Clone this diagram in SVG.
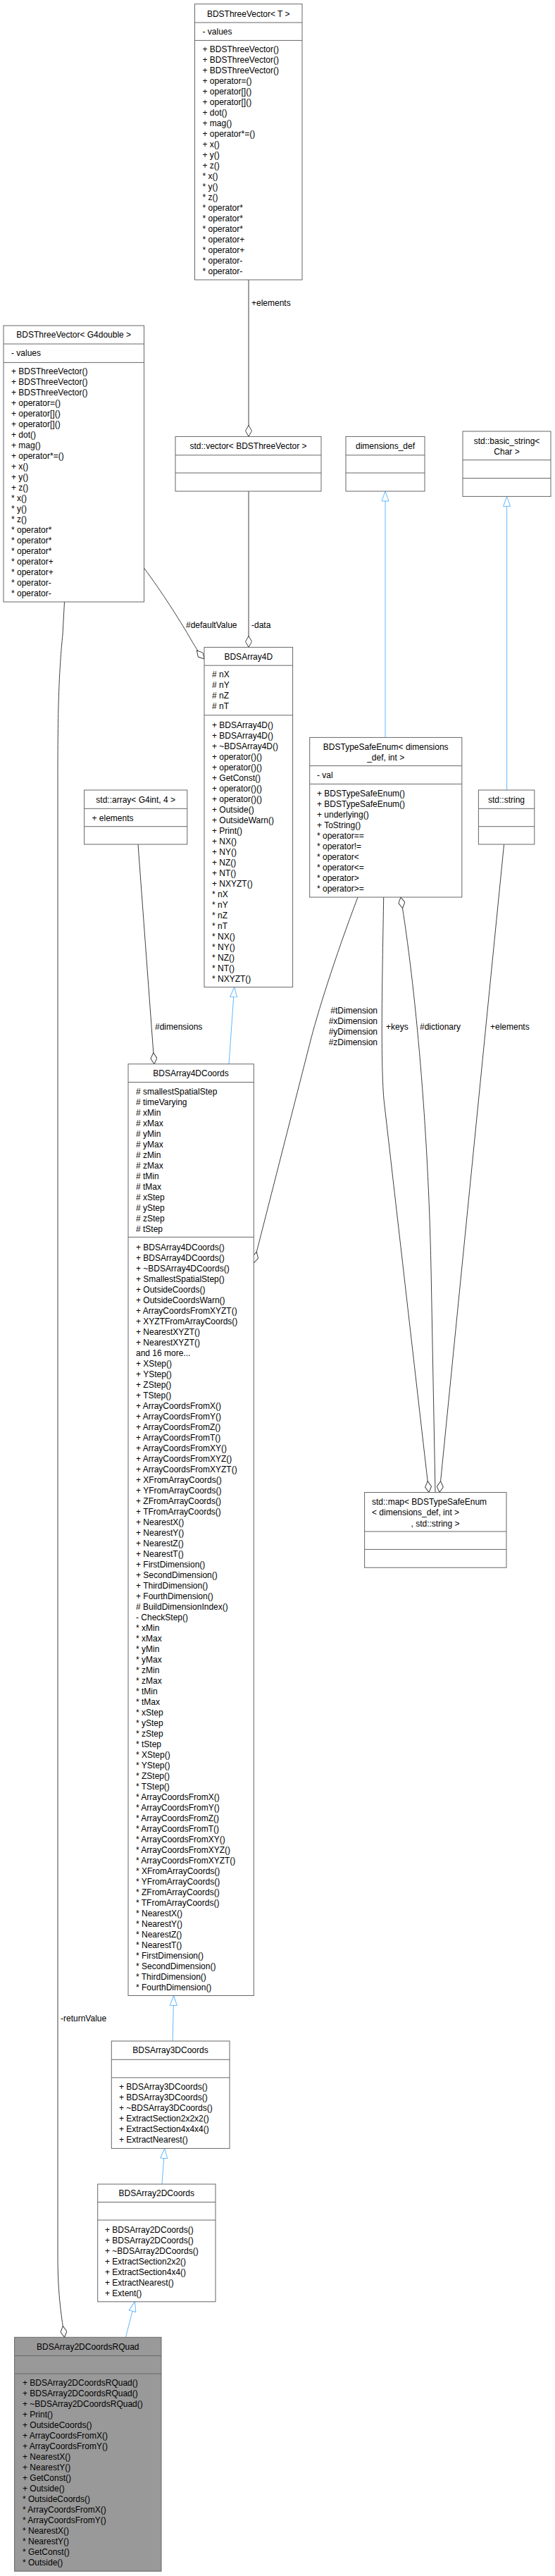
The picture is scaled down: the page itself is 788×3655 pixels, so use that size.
<svg xmlns="http://www.w3.org/2000/svg" width="788" height="3655" viewBox="0 0 788 3655">
<style>
.b{fill:#fff;stroke:#666;stroke-width:1}
.s{stroke:#666;stroke-width:1}
text{font-family:"Liberation Sans",Arial,sans-serif;font-size:12px;fill:#000}
.c{text-anchor:middle}
.e{fill:none;stroke:#404040;stroke-width:1}
.i{fill:none;stroke:#63b8ff;stroke-width:1}
</style>
<defs>
<marker id="dia" viewBox="0 -5 17 10" markerWidth="17" markerHeight="10" refX="16.5" refY="0" orient="auto" markerUnits="userSpaceOnUse"><path d="M0.5,0 L8.5,-4.5 L16.5,0 L8.5,4.5 Z" fill="#fff" stroke="#404040"/></marker>
<marker id="tri" viewBox="0 -6 15 12" markerWidth="15" markerHeight="12" refX="14.5" refY="0" orient="auto" markerUnits="userSpaceOnUse"><path d="M0.5,-5 L14.5,0 L0.5,5 Z" fill="#fff" stroke="#63b8ff"/></marker>
</defs>
<rect width="788" height="3655" fill="#fff"/>
<g id="edges">
<path class="e" d="M353,397 L353,619.4" marker-end="url(#dia)"/>
<text x="357" y="434">+elements</text>
<path class="e" d="M353,697 L353,918.4" marker-end="url(#dia)"/>
<text x="357" y="891">-data</text>
<path class="e" d="M204.5,806 C230,840 255,880 268,902 C276,916 282,926 290,935" marker-end="url(#dia)"/>
<text x="264" y="891">#defaultValue</text>
<path class="e" d="M91.5,854 L89,900 C84,950 82,1000 82,1100 L82,3200 C82,3260 88,3290 91.5,3316.3" marker-end="url(#dia)"/>
<text x="86" y="2868">-returnValue</text>
<path class="e" d="M196,1198 L219,1509.7" marker-end="url(#dia)"/>
<text x="220" y="1461">#dimensions</text>
<path class="e" d="M508,1273 C475,1360 450,1440 440,1480 L360.3,1792" marker-end="url(#dia)"/>
<text x="536" y="1438" text-anchor="end">#tDimension</text>
<text x="536" y="1453" text-anchor="end">#xDimension</text>
<text x="536" y="1468" text-anchor="end">#yDimension</text>
<text x="536" y="1483" text-anchor="end">#zDimension</text>
<path class="e" d="M544.7,1273 C543,1380 540,1500 545,1560 L609,2117.5" marker-end="url(#dia)"/>
<text x="548" y="1461">+keys</text>
<path class="e" d="M618,2117.5 L612,1800 C608,1600 590,1400 569,1273" marker-end="url(#dia)"/>
<text x="596" y="1461">#dictionary</text>
<path class="e" d="M715.6,1198 L624,2117.5" marker-end="url(#dia)"/>
<text x="696" y="1461">+elements</text>
<path class="i" d="M547,1046.4 L547,697" marker-end="url(#tri)"/>
<path class="i" d="M719.6,1121 L719.6,704.4" marker-end="url(#tri)"/>
<path class="i" d="M325,1509.7 L332.7,1400.6" marker-end="url(#tri)"/>
<path class="i" d="M245,2896 L246.7,2831.5" marker-end="url(#tri)"/>
<path class="i" d="M230,3099 L233.7,3048.4" marker-end="url(#tri)"/>
<path class="i" d="M178.4,3316.3 L191.5,3265.8" marker-end="url(#tri)"/>
</g>
<g id="BDSThreeVectorT">
<rect class="b" x="276.5" y="5.7" width="152.5" height="391.3"/>
<path class="s" d="M276.5,32H429M276.5,57.4H429"/>
<text x="352.75" y="23.5" class="c">BDSThreeVector&lt; T &gt;</text>
<text x="287.5" y="49">- values</text>
<text x="287.5" y="74"><tspan x="287.5" dy="0">+ BDSThreeVector()</tspan><tspan x="287.5" dy="15">+ BDSThreeVector()</tspan><tspan x="287.5" dy="15">+ BDSThreeVector()</tspan><tspan x="287.5" dy="15">+ operator=()</tspan><tspan x="287.5" dy="15">+ operator[]()</tspan><tspan x="287.5" dy="15">+ operator[]()</tspan><tspan x="287.5" dy="15">+ dot()</tspan><tspan x="287.5" dy="15">+ mag()</tspan><tspan x="287.5" dy="15">+ operator*=()</tspan><tspan x="287.5" dy="15">+ x()</tspan><tspan x="287.5" dy="15">+ y()</tspan><tspan x="287.5" dy="15">+ z()</tspan><tspan x="287.5" dy="15">* x()</tspan><tspan x="287.5" dy="15">* y()</tspan><tspan x="287.5" dy="15">* z()</tspan><tspan x="287.5" dy="15">* operator*</tspan><tspan x="287.5" dy="15">* operator*</tspan><tspan x="287.5" dy="15">* operator*</tspan><tspan x="287.5" dy="15">* operator+</tspan><tspan x="287.5" dy="15">* operator+</tspan><tspan x="287.5" dy="15">* operator-</tspan><tspan x="287.5" dy="15">* operator-</tspan></text>
</g>
<g id="BDSThreeVectorG4double">
<rect class="b" x="5" y="462" width="199.5" height="392"/>
<path class="s" d="M5,488H204.5M5,514.4H204.5"/>
<text x="104.75" y="479.3" class="c">BDSThreeVector&lt; G4double &gt;</text>
<text x="16" y="505">- values</text>
<text x="16" y="531"><tspan x="16" dy="0">+ BDSThreeVector()</tspan><tspan x="16" dy="15">+ BDSThreeVector()</tspan><tspan x="16" dy="15">+ BDSThreeVector()</tspan><tspan x="16" dy="15">+ operator=()</tspan><tspan x="16" dy="15">+ operator[]()</tspan><tspan x="16" dy="15">+ operator[]()</tspan><tspan x="16" dy="15">+ dot()</tspan><tspan x="16" dy="15">+ mag()</tspan><tspan x="16" dy="15">+ operator*=()</tspan><tspan x="16" dy="15">+ x()</tspan><tspan x="16" dy="15">+ y()</tspan><tspan x="16" dy="15">+ z()</tspan><tspan x="16" dy="15">* x()</tspan><tspan x="16" dy="15">* y()</tspan><tspan x="16" dy="15">* z()</tspan><tspan x="16" dy="15">* operator*</tspan><tspan x="16" dy="15">* operator*</tspan><tspan x="16" dy="15">* operator*</tspan><tspan x="16" dy="15">* operator+</tspan><tspan x="16" dy="15">* operator+</tspan><tspan x="16" dy="15">* operator-</tspan><tspan x="16" dy="15">* operator-</tspan></text>
</g>
<g id="stdVector">
<rect class="b" x="249" y="619.4" width="207" height="77.6"/>
<path class="s" d="M249,645.8H456M249,671H456"/>
<text x="352.5" y="637.2" class="c">std::vector&lt; BDSThreeVector &gt;</text>
</g>
<g id="dimensionsDef">
<rect class="b" x="491" y="619.4" width="112" height="77.6"/>
<path class="s" d="M491,645.8H603M491,671H603"/>
<text x="547" y="637.2" class="c">dimensions_def</text>
</g>
<g id="basicString">
<rect class="b" x="657" y="612" width="125" height="92.4"/>
<path class="s" d="M657,652.7H782M657,678.5H782"/>
<text x="719.5" y="629.7" class="c">std::basic_string&lt;</text>
<text x="719.5" y="644.6" class="c">Char &gt;</text>
</g>
<g id="BDSArray4D">
<rect class="b" x="290" y="918.4" width="125.6" height="482.2"/>
<path class="s" d="M290,944.2H415.6M290,1014.8H415.6"/>
<text x="352.8" y="936" class="c">BDSArray4D</text>
<text x="301" y="961.4"><tspan x="301" dy="0"># nX</tspan><tspan x="301" dy="15"># nY</tspan><tspan x="301" dy="15"># nZ</tspan><tspan x="301" dy="15"># nT</tspan></text>
<text x="301" y="1032.6"><tspan x="301" dy="0">+ BDSArray4D()</tspan><tspan x="301" dy="15">+ BDSArray4D()</tspan><tspan x="301" dy="15">+ ~BDSArray4D()</tspan><tspan x="301" dy="15">+ operator()()</tspan><tspan x="301" dy="15">+ operator()()</tspan><tspan x="301" dy="15">+ GetConst()</tspan><tspan x="301" dy="15">+ operator()()</tspan><tspan x="301" dy="15">+ operator()()</tspan><tspan x="301" dy="15">+ Outside()</tspan><tspan x="301" dy="15">+ OutsideWarn()</tspan><tspan x="301" dy="15">+ Print()</tspan><tspan x="301" dy="15">+ NX()</tspan><tspan x="301" dy="15">+ NY()</tspan><tspan x="301" dy="15">+ NZ()</tspan><tspan x="301" dy="15">+ NT()</tspan><tspan x="301" dy="15">+ NXYZT()</tspan><tspan x="301" dy="15">* nX</tspan><tspan x="301" dy="15">* nY</tspan><tspan x="301" dy="15">* nZ</tspan><tspan x="301" dy="15">* nT</tspan><tspan x="301" dy="15">* NX()</tspan><tspan x="301" dy="15">* NY()</tspan><tspan x="301" dy="15">* NZ()</tspan><tspan x="301" dy="15">* NT()</tspan><tspan x="301" dy="15">* NXYZT()</tspan></text>
</g>
<g id="stdArray">
<rect class="b" x="119.6" y="1121" width="146.2" height="77"/>
<path class="s" d="M119.6,1147.3H265.8M119.6,1172.7H265.8"/>
<text x="192.7" y="1138.8" class="c">std::array&lt; G4int, 4 &gt;</text>
<text x="130.5" y="1164.6">+ elements</text>
</g>
<g id="BDSTypeSafeEnum">
<rect class="b" x="439.7" y="1046.4" width="216.1" height="226.6"/>
<path class="s" d="M439.7,1086.6H655.8M439.7,1112.4H655.8"/>
<text x="547.7" y="1063.6" class="c">BDSTypeSafeEnum&lt; dimensions</text>
<text x="547.7" y="1078.6" class="c">_def, int &gt;</text>
<text x="450" y="1104.3">- val</text>
<text x="450" y="1130.2"><tspan x="450" dy="0">+ BDSTypeSafeEnum()</tspan><tspan x="450" dy="15">+ BDSTypeSafeEnum()</tspan><tspan x="450" dy="15">+ underlying()</tspan><tspan x="450" dy="15">+ ToString()</tspan><tspan x="450" dy="15">* operator==</tspan><tspan x="450" dy="15">* operator!=</tspan><tspan x="450" dy="15">* operator&lt;</tspan><tspan x="450" dy="15">* operator&lt;=</tspan><tspan x="450" dy="15">* operator&gt;</tspan><tspan x="450" dy="15">* operator&gt;=</tspan></text>
</g>
<g id="stdString">
<rect class="b" x="679.4" y="1121" width="79.4" height="77"/>
<path class="s" d="M679.4,1147.3H758.8M679.4,1172.7H758.8"/>
<text x="719" y="1138.8" class="c">std::string</text>
</g>
<g id="BDSArray4DCoords">
<rect class="b" x="182" y="1509.7" width="178.3" height="1321.8"/>
<path class="s" d="M182,1535.5H360.3M182,1755.3H360.3"/>
<text x="271" y="1527.4" class="c">BDSArray4DCoords</text>
<text x="193" y="1553.3"><tspan x="193" dy="0"># smallestSpatialStep</tspan><tspan x="193" dy="15"># timeVarying</tspan><tspan x="193" dy="15"># xMin</tspan><tspan x="193" dy="15"># xMax</tspan><tspan x="193" dy="15"># yMin</tspan><tspan x="193" dy="15"># yMax</tspan><tspan x="193" dy="15"># zMin</tspan><tspan x="193" dy="15"># zMax</tspan><tspan x="193" dy="15"># tMin</tspan><tspan x="193" dy="15"># tMax</tspan><tspan x="193" dy="15"># xStep</tspan><tspan x="193" dy="15"># yStep</tspan><tspan x="193" dy="15"># zStep</tspan><tspan x="193" dy="15"># tStep</tspan></text>
<text x="193" y="1773.7"><tspan x="193" dy="0">+ BDSArray4DCoords()</tspan><tspan x="193" dy="15">+ BDSArray4DCoords()</tspan><tspan x="193" dy="15">+ ~BDSArray4DCoords()</tspan><tspan x="193" dy="15">+ SmallestSpatialStep()</tspan><tspan x="193" dy="15">+ OutsideCoords()</tspan><tspan x="193" dy="15">+ OutsideCoordsWarn()</tspan><tspan x="193" dy="15">+ ArrayCoordsFromXYZT()</tspan><tspan x="193" dy="15">+ XYZTFromArrayCoords()</tspan><tspan x="193" dy="15">+ NearestXYZT()</tspan><tspan x="193" dy="15">+ NearestXYZT()</tspan><tspan x="193" dy="15">and 16 more...</tspan><tspan x="193" dy="15">+ XStep()</tspan><tspan x="193" dy="15">+ YStep()</tspan><tspan x="193" dy="15">+ ZStep()</tspan><tspan x="193" dy="15">+ TStep()</tspan><tspan x="193" dy="15">+ ArrayCoordsFromX()</tspan><tspan x="193" dy="15">+ ArrayCoordsFromY()</tspan><tspan x="193" dy="15">+ ArrayCoordsFromZ()</tspan><tspan x="193" dy="15">+ ArrayCoordsFromT()</tspan><tspan x="193" dy="15">+ ArrayCoordsFromXY()</tspan><tspan x="193" dy="15">+ ArrayCoordsFromXYZ()</tspan><tspan x="193" dy="15">+ ArrayCoordsFromXYZT()</tspan><tspan x="193" dy="15">+ XFromArrayCoords()</tspan><tspan x="193" dy="15">+ YFromArrayCoords()</tspan><tspan x="193" dy="15">+ ZFromArrayCoords()</tspan><tspan x="193" dy="15">+ TFromArrayCoords()</tspan><tspan x="193" dy="15">+ NearestX()</tspan><tspan x="193" dy="15">+ NearestY()</tspan><tspan x="193" dy="15">+ NearestZ()</tspan><tspan x="193" dy="15">+ NearestT()</tspan><tspan x="193" dy="15">+ FirstDimension()</tspan><tspan x="193" dy="15">+ SecondDimension()</tspan><tspan x="193" dy="15">+ ThirdDimension()</tspan><tspan x="193" dy="15">+ FourthDimension()</tspan><tspan x="193" dy="15"># BuildDimensionIndex()</tspan><tspan x="193" dy="15">- CheckStep()</tspan><tspan x="193" dy="15">* xMin</tspan><tspan x="193" dy="15">* xMax</tspan><tspan x="193" dy="15">* yMin</tspan><tspan x="193" dy="15">* yMax</tspan><tspan x="193" dy="15">* zMin</tspan><tspan x="193" dy="15">* zMax</tspan><tspan x="193" dy="15">* tMin</tspan><tspan x="193" dy="15">* tMax</tspan><tspan x="193" dy="15">* xStep</tspan><tspan x="193" dy="15">* yStep</tspan><tspan x="193" dy="15">* zStep</tspan><tspan x="193" dy="15">* tStep</tspan><tspan x="193" dy="15">* XStep()</tspan><tspan x="193" dy="15">* YStep()</tspan><tspan x="193" dy="15">* ZStep()</tspan><tspan x="193" dy="15">* TStep()</tspan><tspan x="193" dy="15">* ArrayCoordsFromX()</tspan><tspan x="193" dy="15">* ArrayCoordsFromY()</tspan><tspan x="193" dy="15">* ArrayCoordsFromZ()</tspan><tspan x="193" dy="15">* ArrayCoordsFromT()</tspan><tspan x="193" dy="15">* ArrayCoordsFromXY()</tspan><tspan x="193" dy="15">* ArrayCoordsFromXYZ()</tspan><tspan x="193" dy="15">* ArrayCoordsFromXYZT()</tspan><tspan x="193" dy="15">* XFromArrayCoords()</tspan><tspan x="193" dy="15">* YFromArrayCoords()</tspan><tspan x="193" dy="15">* ZFromArrayCoords()</tspan><tspan x="193" dy="15">* TFromArrayCoords()</tspan><tspan x="193" dy="15">* NearestX()</tspan><tspan x="193" dy="15">* NearestY()</tspan><tspan x="193" dy="15">* NearestZ()</tspan><tspan x="193" dy="15">* NearestT()</tspan><tspan x="193" dy="15">* FirstDimension()</tspan><tspan x="193" dy="15">* SecondDimension()</tspan><tspan x="193" dy="15">* ThirdDimension()</tspan><tspan x="193" dy="15">* FourthDimension()</tspan></text>
</g>
<g id="stdMap">
<rect class="b" x="517.6" y="2117.5" width="201.4" height="106.7"/>
<path class="s" d="M517.6,2173H719M517.6,2198.4H719"/>
<text x="528" y="2135.2">std::map&lt; BDSTypeSafeEnum</text>
<text x="528" y="2150.1">&lt; dimensions_def, int &gt;</text>
<text x="618" y="2165.5" class="c">, std::string &gt;</text>
</g>
<g id="BDSArray3DCoords">
<rect class="b" x="158.3" y="2896" width="167.7" height="152.4"/>
<path class="s" d="M158.3,2922.3H326M158.3,2947.9H326"/>
<text x="242" y="2913" class="c">BDSArray3DCoords</text>
<text x="169" y="2965.3"><tspan x="169" dy="0">+ BDSArray3DCoords()</tspan><tspan x="169" dy="15">+ BDSArray3DCoords()</tspan><tspan x="169" dy="15">+ ~BDSArray3DCoords()</tspan><tspan x="169" dy="15">+ ExtractSection2x2x2()</tspan><tspan x="169" dy="15">+ ExtractSection4x4x4()</tspan><tspan x="169" dy="15">+ ExtractNearest()</tspan></text>
</g>
<g id="BDSArray2DCoords">
<rect class="b" x="138.7" y="3099" width="167.3" height="166.8"/>
<path class="s" d="M138.7,3124.5H306M138.7,3150H306"/>
<text x="222.3" y="3116.3" class="c">BDSArray2DCoords</text>
<text x="149" y="3167.5"><tspan x="149" dy="0">+ BDSArray2DCoords()</tspan><tspan x="149" dy="15">+ BDSArray2DCoords()</tspan><tspan x="149" dy="15">+ ~BDSArray2DCoords()</tspan><tspan x="149" dy="15">+ ExtractSection2x2()</tspan><tspan x="149" dy="15">+ ExtractSection4x4()</tspan><tspan x="149" dy="15">+ ExtractNearest()</tspan><tspan x="149" dy="15">+ Extent()</tspan></text>
</g>
<g id="BDSArray2DCoordsRQuad">
<rect x="20.6" y="3316.3" width="208.4" height="331.9" fill="#999" stroke="#666"/>
<path class="s" d="M20.6,3342.5H229M20.6,3368H229"/>
<text x="124.8" y="3333.5" class="c">BDSArray2DCoordsRQuad</text>
<text x="32" y="3384.9"><tspan x="32" dy="0">+ BDSArray2DCoordsRQuad()</tspan><tspan x="32" dy="15">+ BDSArray2DCoordsRQuad()</tspan><tspan x="32" dy="15">+ ~BDSArray2DCoordsRQuad()</tspan><tspan x="32" dy="15">+ Print()</tspan><tspan x="32" dy="15">+ OutsideCoords()</tspan><tspan x="32" dy="15">+ ArrayCoordsFromX()</tspan><tspan x="32" dy="15">+ ArrayCoordsFromY()</tspan><tspan x="32" dy="15">+ NearestX()</tspan><tspan x="32" dy="15">+ NearestY()</tspan><tspan x="32" dy="15">+ GetConst()</tspan><tspan x="32" dy="15">+ Outside()</tspan><tspan x="32" dy="15">* OutsideCoords()</tspan><tspan x="32" dy="15">* ArrayCoordsFromX()</tspan><tspan x="32" dy="15">* ArrayCoordsFromY()</tspan><tspan x="32" dy="15">* NearestX()</tspan><tspan x="32" dy="15">* NearestY()</tspan><tspan x="32" dy="15">* GetConst()</tspan><tspan x="32" dy="15">* Outside()</tspan></text>
</g>
</svg>
